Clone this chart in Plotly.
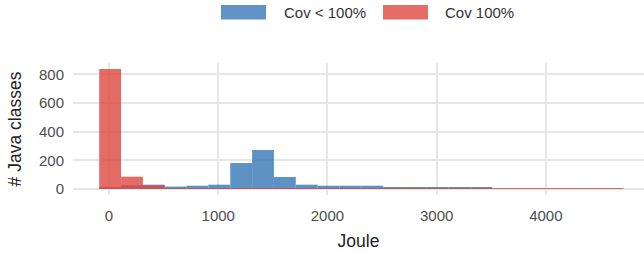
import plotly.graph_objects as go

# ---- data ----
bin_start = -90
bin_width = 200
cov_lt_100 = [14, 26, 30, 17, 23, 30, 181, 272, 84, 30, 23, 23, 23, 12, 8, 8, 8, 8,
              0, 0, 0, 0, 0, 0]
cov_100 = [837, 86, 25, 5, 3, 3, 3, 3, 3, 3, 3, 3, 3, 3, 3, 3, 3, 3,
           3, 3, 3, 3, 3, 3]
series_names = ["Cov < 100%", "Cov 100%"]
x_ticks = [0, 1000, 2000, 3000, 4000]
y_ticks = [0, 200, 400, 600, 800]

centers = [bin_start + bin_width * (i + 0.5) for i in range(len(cov_100))]

blue = "rgb(56,119,182)"
red = "rgb(222,72,62)"
font_family = "Liberation Sans, Arial, sans-serif"

fig = go.Figure()
fig.add_trace(go.Bar(x=centers, y=cov_lt_100, width=bin_width, name=series_names[0],
                     marker=dict(color=blue, line=dict(width=0)), opacity=0.8))
fig.add_trace(go.Bar(x=centers, y=cov_100, width=bin_width, name=series_names[1],
                     marker=dict(color=red, line=dict(width=0)), opacity=0.8))

W, H = 644, 253
L, R, T, B = 73, 0, 63, 58
pw, ph = W - L - R, H - T - B

def px(xw):
    return (xw - L) / pw

def py(yw):
    return (H - B - yw) / ph

# manual legend (wide ggplot-style keys), window coordinates
shapes = []
annotations = []
legend_items = [(series_names[0], blue, 221, 266, 282), (series_names[1], red, 383, 428, 443)]
for name, col, x0, x1, tx in legend_items:
    shapes.append(dict(type="rect", xref="paper", yref="paper",
                       x0=px(x0), x1=px(x1), y0=py(19.5), y1=py(5),
                       fillcolor=col, opacity=0.8, line=dict(width=0)))
    annotations.append(dict(text=name, xref="paper", yref="paper", x=px(tx), y=py(12.5),
                            xanchor="left", yanchor="middle", showarrow=False,
                            font=dict(size=15, color="#333333", family=font_family)))

fig.update_layout(
    width=W, height=H,
    margin=dict(l=L, r=R, t=T, b=B, autoexpand=False),
    barmode="overlay",
    showlegend=False,
    hovermode=False,
    plot_bgcolor="white", paper_bgcolor="white",
    font=dict(family=font_family),
    shapes=shapes, annotations=annotations,
    xaxis=dict(range=[-330, 4899], tickvals=x_ticks, showgrid=True, automargin=False,
               gridcolor="#E6E6E6", gridwidth=2, zeroline=False, showline=False,
               ticks="", ticklabelstandoff=10, tickfont=dict(size=15, color="#4D4D4D"),
               title=dict(text="Joule", font=dict(size=17.5, color="#222222"), standoff=11)),
    yaxis=dict(range=[-41.85, 878.85], tickvals=y_ticks, showgrid=True, automargin=False,
               gridcolor="#E6E6E6", gridwidth=2, zeroline=False, showline=False,
               ticks="", ticklabelstandoff=8, tickfont=dict(size=15, color="#4D4D4D"),
               title=dict(text="# Java classes", font=dict(size=17.5, color="#222222"), standoff=12)),
)

fig.write_html("out.html", config={"displayModeBar": False},
               post_script="document.body.style.margin='0';")
